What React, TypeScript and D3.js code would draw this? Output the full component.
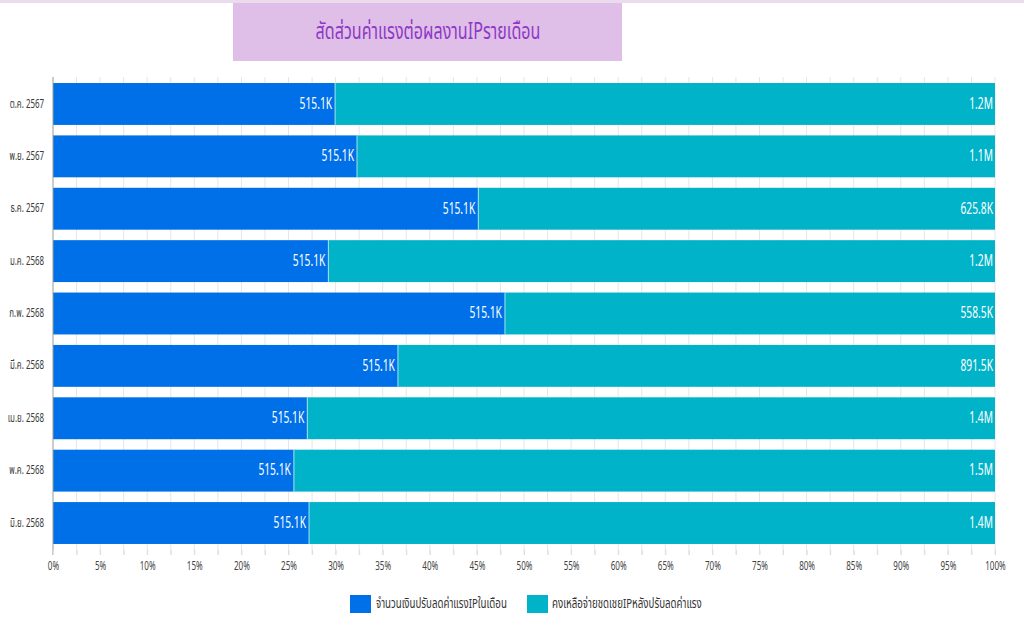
import { useEffect, useRef } from "react";
import * as d3 from "d3";

// monthly rows (Thai month + Buddhist year)
const months = [
  "ต.ค. 2567",
  "พ.ย. 2567",
  "ธ.ค. 2567",
  "ม.ค. 2568",
  "ก.พ. 2568",
  "มี.ค. 2568",
  "เม.ย. 2568",
  "พ.ค. 2568",
  "มิ.ย. 2568",
];

// amount deducted from IP wage each month
const deducted = [515100, 515100, 515100, 515100, 515100, 515100, 515100, 515100, 515100];
// IP compensation left after the deduction
const remaining = [1205000, 1081000, 625800, 1247000, 558500, 891500, 1393000, 1499000, 1380000];

const seriesNames = [
  "จำนวนเงินปรับลดค่าแรงIPในเดือน",
  "คงเหลือจ่ายชดเชยIPหลังปรับลดค่าแรง",
];
const seriesColors = ["#0070E8", "#00B3C9"];

const title = "สัดส่วนค่าแรงต่อผลงานIPรายเดือน";

const W = 1024;
const H = 633;
const margin = { top: 77, right: 29, bottom: 83, left: 53 };
const FONT = "'Noto Sans Thai', 'Noto Sans', Roboto, sans-serif";

function fmt(v: number) {
  return v >= 1e6 ? (v / 1e6).toFixed(1) + "M" : (v / 1e3).toFixed(1) + "K";
}

export default function App() {
  const svgRef = useRef<SVGSVGElement>(null);

  useEffect(() => {
    const svg = d3.select(svgRef.current);
    svg.selectAll("*").remove();

    const innerW = W - margin.left - margin.right;
    const innerH = H - margin.top - margin.bottom;

    // top border + title box
    svg.append("rect").attr("x", 0).attr("y", 0).attr("width", W).attr("height", 3).attr("fill", "#EADCEC");
    svg.append("rect")
      .attr("x", 233).attr("y", 3).attr("width", 389).attr("height", 58)
      .attr("fill", "#DFBEE7");
    svg.append("text")
      .attr("transform", "translate(428,32) scale(0.7,1)")
      .attr("text-anchor", "middle")
      .attr("dominant-baseline", "central")
      .attr("fill", "#8E38C6")
      .style("font-family", FONT)
      .style("font-size", "23px")
      .text(title);

    const g = svg.append("g").attr("transform", `translate(${margin.left},${margin.top})`);

    const x = d3.scaleLinear().domain([0, 1]).range([0, innerW]);
    const y = d3.scaleBand().domain(months).range([0, innerH]).paddingInner(0.2).paddingOuter(0.115);

    // gridlines every 2.5%
    const gridTicks = d3.range(0, 41).map((i) => i * 0.025);
    g.append("g")
      .selectAll("line")
      .data(gridTicks.slice(1))
      .join("line")
      .attr("x1", (d) => x(d)).attr("x2", (d) => x(d))
      .attr("y1", 0).attr("y2", innerH + 5)
      .attr("stroke", "#E6E6E6");

    const rows = months.map((m, i) => {
      const total = deducted[i] + remaining[i];
      return { month: m, a: deducted[i], b: remaining[i], pa: deducted[i] / total };
    });

    const row = g.selectAll("g.row").data(rows).join("g")
      .attr("class", "row")
      .attr("transform", (d) => `translate(0,${y(d.month)})`);

    row.append("rect")
      .attr("x", 0).attr("width", (d) => x(d.pa))
      .attr("height", y.bandwidth())
      .attr("fill", seriesColors[0]);
    row.append("rect")
      .attr("x", (d) => x(d.pa)).attr("width", (d) => x(1) - x(d.pa))
      .attr("height", y.bandwidth())
      .attr("fill", seriesColors[1]);
    row.append("line")
      .attr("x1", (d) => x(d.pa)).attr("x2", (d) => x(d.pa))
      .attr("y1", 0).attr("y2", y.bandwidth())
      .attr("stroke", "#9FE3EC").attr("stroke-width", 1);

    const hb = y.bandwidth() / 2;
    row.append("text")
      .attr("transform", (d) => `translate(${x(d.pa) - 3},${hb}) scale(0.64,1)`)
      .attr("text-anchor", "end")
      .attr("dominant-baseline", "central")
      .attr("fill", "#fff")
      .style("font-family", FONT)
      .style("font-size", "16px")
      .text((d) => fmt(d.a));
    row.append("text")
      .attr("transform", `translate(${x(1) - 2},${hb}) scale(0.64,1)`)
      .attr("text-anchor", "end")
      .attr("dominant-baseline", "central")
      .attr("fill", "#fff")
      .style("font-family", FONT)
      .style("font-size", "16px")
      .text((d) => fmt(d.b));

    // y axis
    const yAxis = g.append("g").call(d3.axisLeft(y).tickSize(0));
    yAxis.select(".domain").attr("stroke", "#999").attr("d", `M0,0V${innerH + 5}`);
    yAxis.selectAll("text")
      .attr("x", 0)
      .attr("dy", null)
      .attr("dominant-baseline", "central")
      .attr("transform", "translate(-9,0) scale(0.66,1)")
      .attr("fill", "#3a3a3a")
      .style("font-family", FONT)
      .style("font-size", "12px");

    // x axis
    const xAxis = g.append("g")
      .attr("transform", `translate(0,${innerH})`)
      .call(
        d3.axisBottom(x)
          .tickValues(gridTicks)
          .tickSize(5)
          .tickFormat((d) => {
            const v = Math.round(+d * 1000) / 10;
            return v % 5 === 0 ? `${v}%` : "";
          })
      );
    xAxis.select(".domain").remove();
    xAxis.selectAll("line").attr("stroke", "#ddd");
    xAxis.selectAll("text")
      .attr("y", 0)
      .attr("dy", null)
      .attr("dominant-baseline", "central")
      .attr("transform", "translate(0,16) scale(0.62,1)")
      .attr("fill", "#444")
      .style("font-family", FONT)
      .style("font-size", "13px");

    // legend
    const legend = svg.append("g").attr("transform", "translate(350,595)");
    const offsets = [0, 177];
    seriesNames.forEach((name, i) => {
      const lg = legend.append("g").attr("transform", `translate(${offsets[i]},0)`);
      lg.append("rect").attr("width", 21).attr("height", 18).attr("fill", seriesColors[i]);
      lg.append("text")
        .attr("transform", `translate(${i === 0 ? 26 : 25},9) scale(0.72,1)`)
        .attr("dominant-baseline", "central")
        .attr("fill", "#333")
        .style("font-family", FONT)
        .style("font-size", "13.5px")
        .text(name);
    });
  }, []);

  return (
    <svg
      ref={svgRef}
      width={W}
      height={H}
      style={{ position: "absolute", left: 0, top: 0, background: "#fff" }}
    />
  );
}
